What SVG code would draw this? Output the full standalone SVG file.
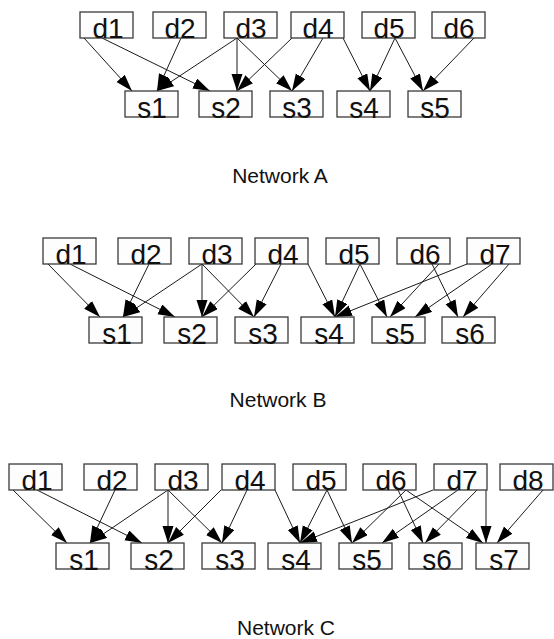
<svg xmlns="http://www.w3.org/2000/svg" width="554" height="639" viewBox="0 0 554 639">
  <style>
    .box rect { fill: #fdfdfd; stroke: #3a3a3a; stroke-width: 1.3; }
    .box text { font-family: "Liberation Sans", Arial, sans-serif; font-size: 28px; fill: #111; text-anchor: middle; }
    .edges line { stroke: #1a1a1a; stroke-width: 1; marker-end: url(#head); }
    .title { font-family: "Liberation Sans", Arial, sans-serif; font-size: 21px; fill: #111; text-anchor: middle; }
  </style>
  <defs>
    <marker id="head" markerUnits="userSpaceOnUse" markerWidth="18" markerHeight="12" refX="17" refY="5.5" orient="auto">
      <path d="M0,0 L17,5.5 L0,11 z" fill="#000"/>
    </marker>
  </defs>
  <rect width="554" height="639" fill="#fff"/>

  <!-- Network A -->
  <g id="netA-edges" class="edges">
    <line x1="84" y1="38" x2="132" y2="91"/>
    <line x1="102" y1="38" x2="210" y2="91"/>
    <line x1="181" y1="38" x2="157" y2="91"/>
    <line x1="237" y1="38" x2="157" y2="91"/>
    <line x1="237" y1="38" x2="237" y2="91"/>
    <line x1="237" y1="38" x2="292" y2="91"/>
    <line x1="292" y1="38" x2="237" y2="91"/>
    <line x1="323" y1="38" x2="292" y2="91"/>
    <line x1="343" y1="38" x2="370" y2="91"/>
    <line x1="395" y1="38" x2="370" y2="91"/>
    <line x1="395" y1="38" x2="423" y2="91"/>
    <line x1="474" y1="38" x2="423" y2="91"/>
  </g>
  <g id="A-d1" class="box"><rect x="80" y="12" width="53" height="26"/><text x="108" y="37.5">d1</text></g>
  <g id="A-d2" class="box"><rect x="153" y="12" width="53" height="26"/><text x="180" y="37.5">d2</text></g>
  <g id="A-d3" class="box"><rect x="224" y="12" width="53" height="26"/><text x="251" y="37.5">d3</text></g>
  <g id="A-d4" class="box"><rect x="291" y="12" width="53" height="26"/><text x="318" y="37.5">d4</text></g>
  <g id="A-d5" class="box"><rect x="362" y="12" width="53" height="26"/><text x="389" y="37.5">d5</text></g>
  <g id="A-d6" class="box"><rect x="432" y="12" width="53" height="26"/><text x="459" y="37.5">d6</text></g>
  <g id="A-s1" class="box"><rect x="125" y="91" width="53" height="26"/><text transform="translate(152,117.5) scale(1,1.08)">s1</text></g>
  <g id="A-s2" class="box"><rect x="199" y="91" width="53" height="26"/><text transform="translate(226,117.5) scale(1,1.08)">s2</text></g>
  <g id="A-s3" class="box"><rect x="270" y="91" width="53" height="26"/><text transform="translate(297,117.5) scale(1,1.08)">s3</text></g>
  <g id="A-s4" class="box"><rect x="337" y="91" width="53" height="26"/><text transform="translate(364,117.5) scale(1,1.08)">s4</text></g>
  <g id="A-s5" class="box"><rect x="408" y="91" width="53" height="26"/><text transform="translate(435,117.5) scale(1,1.08)">s5</text></g>
  <text class="title" x="280" y="183">Network A</text>

  <!-- Network B -->
  <g id="netB-edges" class="edges">
    <line x1="48" y1="264" x2="100" y2="317"/>
    <line x1="70" y1="264" x2="175" y2="317"/>
    <line x1="149" y1="264" x2="123" y2="317"/>
    <line x1="202" y1="264" x2="123" y2="317"/>
    <line x1="202" y1="264" x2="202" y2="317"/>
    <line x1="202" y1="264" x2="254" y2="317"/>
    <line x1="256" y1="264" x2="202" y2="317"/>
    <line x1="281" y1="264" x2="254" y2="317"/>
    <line x1="308" y1="264" x2="335" y2="317"/>
    <line x1="360" y1="264" x2="335" y2="317"/>
    <line x1="360" y1="264" x2="387" y2="317"/>
    <line x1="439" y1="264" x2="390" y2="317"/>
    <line x1="432" y1="264" x2="458" y2="317"/>
    <line x1="467" y1="264" x2="335" y2="317"/>
    <line x1="492" y1="264" x2="415" y2="317"/>
    <line x1="509" y1="264" x2="463" y2="317"/>
  </g>
  <g id="B-d1" class="box"><rect x="43" y="238" width="53" height="26"/><text x="71" y="263.5">d1</text></g>
  <g id="B-d2" class="box"><rect x="118" y="238" width="53" height="26"/><text x="146" y="263.5">d2</text></g>
  <g id="B-d3" class="box"><rect x="189" y="238" width="53" height="26"/><text x="217" y="263.5">d3</text></g>
  <g id="B-d4" class="box"><rect x="255" y="238" width="53" height="26"/><text x="283" y="263.5">d4</text></g>
  <g id="B-d5" class="box"><rect x="326" y="238" width="53" height="26"/><text x="354" y="263.5">d5</text></g>
  <g id="B-d6" class="box"><rect x="397" y="238" width="53" height="26"/><text x="425" y="263.5">d6</text></g>
  <g id="B-d7" class="box"><rect x="467" y="238" width="53" height="26"/><text x="495" y="263.5">d7</text></g>
  <g id="B-s1" class="box"><rect x="89" y="317" width="53" height="26"/><text transform="translate(117,343.5) scale(1,1.08)">s1</text></g>
  <g id="B-s2" class="box"><rect x="164" y="317" width="53" height="26"/><text transform="translate(192,343.5) scale(1,1.08)">s2</text></g>
  <g id="B-s3" class="box"><rect x="235" y="317" width="53" height="26"/><text transform="translate(263,343.5) scale(1,1.08)">s3</text></g>
  <g id="B-s4" class="box"><rect x="301" y="317" width="53" height="26"/><text transform="translate(329,343.5) scale(1,1.08)">s4</text></g>
  <g id="B-s5" class="box"><rect x="372" y="317" width="53" height="26"/><text transform="translate(400,343.5) scale(1,1.08)">s5</text></g>
  <g id="B-s6" class="box"><rect x="442" y="317" width="53" height="26"/><text transform="translate(470,343.5) scale(1,1.08)">s6</text></g>
  <text class="title" x="278" y="407">Network B</text>

  <!-- Network C -->
  <g id="netC-edges" class="edges">
    <line x1="13" y1="490" x2="67" y2="543"/>
    <line x1="37" y1="490" x2="142" y2="543"/>
    <line x1="115" y1="490" x2="90" y2="543"/>
    <line x1="168" y1="490" x2="90" y2="543"/>
    <line x1="168" y1="490" x2="168" y2="543"/>
    <line x1="168" y1="490" x2="222" y2="543"/>
    <line x1="221" y1="490" x2="168" y2="543"/>
    <line x1="247" y1="490" x2="222" y2="543"/>
    <line x1="275" y1="490" x2="300" y2="543"/>
    <line x1="327" y1="490" x2="300" y2="543"/>
    <line x1="327" y1="490" x2="352" y2="543"/>
    <line x1="406" y1="490" x2="352" y2="543"/>
    <line x1="398" y1="490" x2="423" y2="543"/>
    <line x1="406" y1="490" x2="483" y2="543"/>
    <line x1="433" y1="490" x2="300" y2="543"/>
    <line x1="458" y1="490" x2="382" y2="543"/>
    <line x1="477" y1="490" x2="425" y2="543"/>
    <line x1="486" y1="490" x2="486" y2="543"/>
    <line x1="543" y1="490" x2="497" y2="543"/>
  </g>
  <g id="C-d1" class="box"><rect x="9" y="464" width="53" height="26"/><text x="37" y="489.5">d1</text></g>
  <g id="C-d2" class="box"><rect x="84" y="464" width="53" height="26"/><text x="112" y="489.5">d2</text></g>
  <g id="C-d3" class="box"><rect x="155" y="464" width="53" height="26"/><text x="183" y="489.5">d3</text></g>
  <g id="C-d4" class="box"><rect x="222" y="464" width="53" height="26"/><text x="250" y="489.5">d4</text></g>
  <g id="C-d5" class="box"><rect x="293" y="464" width="53" height="26"/><text x="321" y="489.5">d5</text></g>
  <g id="C-d6" class="box"><rect x="363" y="464" width="53" height="26"/><text x="391" y="489.5">d6</text></g>
  <g id="C-d7" class="box"><rect x="434" y="464" width="53" height="26"/><text x="462" y="489.5">d7</text></g>
  <g id="C-d8" class="box"><rect x="500" y="464" width="53" height="26"/><text x="528" y="489.5">d8</text></g>
  <g id="C-s1" class="box"><rect x="56" y="543" width="53" height="26"/><text transform="translate(84,569.5) scale(1,1.08)">s1</text></g>
  <g id="C-s2" class="box"><rect x="131" y="543" width="53" height="26"/><text transform="translate(159,569.5) scale(1,1.08)">s2</text></g>
  <g id="C-s3" class="box"><rect x="202" y="543" width="53" height="26"/><text transform="translate(230,569.5) scale(1,1.08)">s3</text></g>
  <g id="C-s4" class="box"><rect x="268" y="543" width="53" height="26"/><text transform="translate(296,569.5) scale(1,1.08)">s4</text></g>
  <g id="C-s5" class="box"><rect x="339" y="543" width="53" height="26"/><text transform="translate(367,569.5) scale(1,1.08)">s5</text></g>
  <g id="C-s6" class="box"><rect x="409" y="543" width="53" height="26"/><text transform="translate(437,569.5) scale(1,1.08)">s6</text></g>
  <g id="C-s7" class="box"><rect x="476" y="543" width="53" height="26"/><text transform="translate(504,569.5) scale(1,1.08)">s7</text></g>
  <text class="title" x="286" y="635">Network C</text>
</svg>
